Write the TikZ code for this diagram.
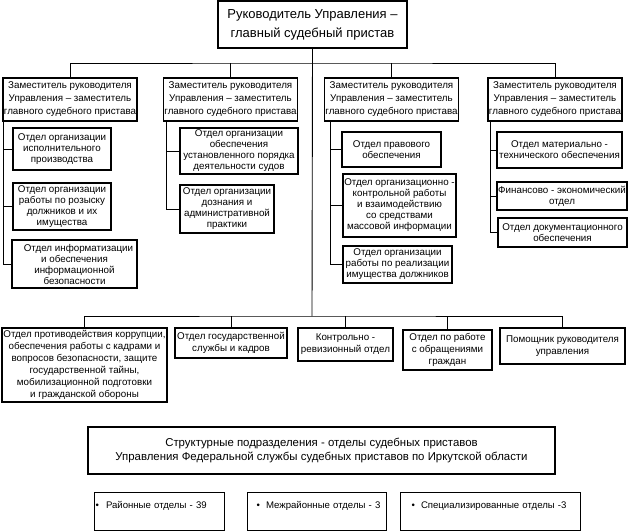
\documentclass[tikz,border=0pt]{standalone}
\usepackage{fontspec}
\setmainfont{Liberation Sans}

\tikzset{every picture/.style={line width=0.9pt}}
\tikzset{
box/.style={draw, line width=1.3pt, inner sep=1pt, align=center},
headfont/.style={font=\fontsize{13}{19}\selectfont},
depfont/.style={font=\fontsize{9.8}{13}\selectfont},
subfont/.style={font=\fontsize{9.8}{11}\selectfont},
lowfont/.style={font=\fontsize{9.8}{12}\selectfont},
strfont/.style={font=\fontsize{11.4}{14}\selectfont},
listbox/.style={draw, line width=1.3pt, anchor=north west, inner ysep=0pt, text height=16pt, text depth=22pt, align=left, font=\fontsize{9.6}{12}\selectfont}
}

\begin{document}
\begin{tikzpicture}[x=1pt,y=1pt,yscale=-1,xscale=1]
\useasboundingbox (0,0) rectangle (630,531);

%Shape: Rectangle [id:head]
\node [box, headfont, minimum width=189, minimum height=47] (head) at (312.5,24.5) {Руководитель Управления –\\главный судебный пристав};

%Shape: Rectangle [id:dep]
\node [box, depfont, minimum width=134, minimum height=43] (dep1) at (70,99.5) {Заместитель руководителя\\Управления – заместитель\\главного судебного пристава};
\node [box, depfont, minimum width=134, minimum height=43] (dep2) at (230.5,99.5) {Заместитель руководителя\\Управления – заместитель\\главного судебного пристава};
\node [box, depfont, minimum width=134, minimum height=43] (dep3) at (391.5,99.5) {Заместитель руководителя\\Управления – заместитель\\главного судебного пристава};
\node [box, depfont, minimum width=134, minimum height=43] (dep4) at (555,99.5) {Заместитель руководителя\\Управления – заместитель\\главного судебного пристава};

% column 1
\node [box, subfont, minimum width=98, minimum height=42] (s11) at (62,149) {Отдел организации\\исполнительного\\производства};
\node [box, subfont, minimum width=98, minimum height=47] (s12) at (62,206.5) {Отдел организации\\работы по розыску\\должников и их\\имущества};
\node [box, subfont, minimum width=125, minimum height=48] (s13) at (74.5,264) {\hspace*{8pt}Отдел информатизации\\и обеспечения\\информационной\\безопасности};

% column 2
\node [box, subfont, minimum width=118, minimum height=46] (s21) at (239,151) {Отдел организации\\обеспечения\\установленного порядка\\деятельности судов};
\node [box, subfont, minimum width=94, minimum height=48] (s22) at (227,209) {Отдел организации\\дознания и\\административной\\практики};

% column 3
\node [box, subfont, minimum width=99, minimum height=35] (s31) at (391.5,149.5) {Отдел правового\\обеспечения};
\node [box, subfont, minimum width=113, minimum height=63] (s32) at (399.5,205.5) {Отдел организационно -\\контрольной работы\\и взаимодействию\\со средствами\\массовой информации};
\node [box, subfont, minimum width=109, minimum height=37] (s33) at (397.5,264.5) {Отдел организации\\работы по реализации\\имущества должников};

% column 4
\node [box, subfont, minimum width=125, minimum height=36] (s41) at (559.5,150) {Отдел материально -\\технического обеспечения};
\node [box, subfont, minimum width=130, minimum height=28] (s42) at (562,196) {Финансово - экономический\\отдел};
\node [box, subfont, minimum width=129, minimum height=29] (s43) at (562.5,232.5) {Отдел документационного\\обеспечения};

% lower row
\node [box, lowfont, minimum width=165, minimum height=74] (low1) at (84.5,365) {Отдел противодействия коррупции,\\обеспечения работы с кадрами и\\вопросов безопасности, защите\\государственной тайны,\\мобилизационной подготовки\\и гражданской обороны};
\node [box, lowfont, minimum width=112, minimum height=30] (low2) at (231,343) {Отдел государственной\\службы и кадров};
\node [box, lowfont, minimum width=95, minimum height=33] (low3) at (345.5,344.5) {Контрольно -\\ревизионный отдел};
\node [box, lowfont, minimum width=89, minimum height=40] (low4) at (447.5,350) {Отдел по работе\\с обращениями\\граждан};
\node [box, lowfont, minimum width=125, minimum height=36] (low5) at (562.5,346) {Помощник руководителя\\управления};

% Text Node
\node [box, strfont, minimum width=467, minimum height=47] (str) at (321.5,450.5) {Структурные подразделения - отделы судебных приставов\\Управления Федеральной службы судебных приставов по Иркутской области};

\node [listbox, inner xsep=1pt, text width=128] (b1) at (94,492) {\mbox{\textbullet\hspace{7pt}Районные отделы - 39}};
\node [listbox, inner xsep=9pt, text width=121] (b2) at (247,492) {\mbox{\textbullet\hspace{6pt}Межрайонные отделы - 3}};
\node [listbox, inner xsep=11pt, text width=158] (b3) at (400,492) {\mbox{\textbullet\hspace{6pt}Специализированные отделы -3}};

%Straight Lines
\coordinate (top) at (312,63);
\coordinate (mid) at (312,316);
\draw (dep1.north) |- (top) -| (dep4.north);
\draw (dep2.north) -- (dep2.north |- top);
\draw (dep3.north) -- (dep3.north |- top);
\draw (head.south) -- (mid);
\draw (low1.north) |- (mid) -| (low5.north);
\draw (low2.north) -- (low2.north |- mid);
\draw (low3.north) -- (low3.north |- mid);
\draw (low4.north) -- (low4.north |- mid);

%Straight Lines
\coordinate (c1) at ([xshift=1pt]dep1.south west);
\draw (c1) |- (s13.west);
\draw (s11.west) -- (s11.west -| c1);
\draw (s12.west) -- (s12.west -| c1);
\coordinate (c2) at ([xshift=4pt]dep2.south west);
\draw (c2) |- (s22.west);
\draw (s21.west) -- (s21.west -| c2);
\coordinate (c3) at ([xshift=7pt]dep3.south west);
\draw (c3) |- (s33.west);
\draw (s31.west) -- (s31.west -| c3);
\draw (s32.west) -- (s32.west -| c3);
\coordinate (c4) at ([xshift=3pt]dep4.south west);
\draw (c4) |- (s43.west);
\draw (s41.west) -- (s41.west -| c4);
\draw (s42.west) -- (s42.west -| c4);

\end{tikzpicture}
\end{document}
